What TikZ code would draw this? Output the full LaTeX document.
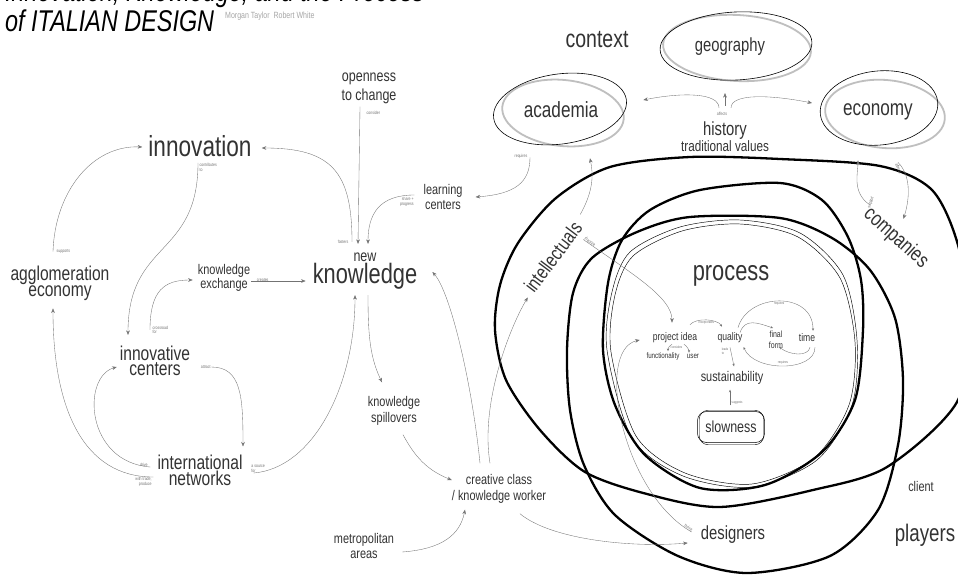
\documentclass[tikz,border=0pt]{standalone}
\usepackage{fontspec}
\setmainfont{Liberation Sans}[FakeStretch=0.78]
\usetikzlibrary{arrows.meta}
\newcommand\fsz[2]{\fontsize{#1}{#2}\selectfont}
\tikzset{
  idea/.style={inner sep=1pt, align=center, text=black!80},
  link/.style={draw=black!55, line width=0.35pt, -{Stealth[length=4.5pt,width=3.6pt]}},
  smalllink/.style={link, -{Stealth[length=2.6pt,width=2.2pt]}},
  lbl/.style={font=\fsz{4.5}{4.8}, text=black!55, inner sep=0.5pt, align=left},
  loop/.style={line width=2.3pt, line join=round},
  ring/.style={line width=0.45pt},
  sketch/.style={line width=0.6pt},
  smudge/.style={line width=1.8pt, draw=black!25},
}
\begin{document}
\begin{tikzpicture}[x=1pt,y=1pt]
\fill[white] (0,0) rectangle (958,-575);
\useasboundingbox (0,0) rectangle (958,-575);

% title
\node[inner sep=0pt, anchor=south west, align=left, font=\fsz{30}{30}\itshape] (title) at (5,-32) {Innovation, Knowledge, and the Process\\of ITALIAN DESIGN};
\node[inner sep=0pt, anchor=base west, font=\fsz{9}{9}, text=black!35] (authors) at (225,-19) {Morgan Taylor\ \ Robert White};

% players
\draw[loop] plot[smooth cycle] coordinates {(540,-430) (506,-380) (495,-330) (500,-285) (518,-243) (556,-198) (610,-167) (690,-157) (780,-159) (880,-166) (932,-190) (958,-245) (968,-320) (957,-402) (887,-467) (813,-490) (720,-507) (647,-494) (585,-472)};
\draw[loop] plot[smooth cycle] coordinates {(603,-350) (608,-283) (622,-240) (650,-210) (700,-190) (780,-183) (822,-200) (848,-237) (861,-280) (863,-330) (855,-400) (822,-452) (765,-485) (700,-488) (645,-455) (615,-405)};
\draw[loop] plot[smooth cycle] coordinates {(567,-350) (573,-293) (592,-258) (637,-232) (690,-217) (780,-218) (832,-238) (870,-270) (895,-318) (903,-380) (898,-445) (878,-510) (830,-556) (747,-573) (678,-556) (615,-515) (584,-465) (570,-410)};
\draw[ring] plot[smooth cycle] coordinates {(607,-350) (612,-292) (630,-252) (680,-227) (740,-220) (800,-233) (843,-275) (857,-340) (852,-405) (817,-460) (752,-487) (683,-476) (632,-438)};
\draw[ring] plot[smooth cycle] coordinates {(611,-352) (615,-295) (633,-256) (682,-231) (740,-224) (798,-237) (840,-278) (855,-342) (849,-405) (814,-458) (752,-484) (685,-473) (636,-436)};

% context
\draw[smudge, rotate around={-3:(737,-48)}] (737,-48) ellipse [x radius=74, y radius=33];
\draw[sketch, rotate around={3:(736,-46)}] (736,-46) ellipse [x radius=76, y radius=34];
\draw[smudge, rotate around={-6:(563,-113)}] (563,-113) ellipse [x radius=61, y radius=33];
\draw[sketch, rotate around={8:(560,-109)}] (560,-109) ellipse [x radius=67, y radius=35];
\draw[smudge, rotate around={-5:(885,-114)}] (885,-114) ellipse [x radius=60, y radius=34];
\draw[sketch, rotate around={6:(879,-108)}] (879,-108) ellipse [x radius=59, y radius=37];

\node[idea, font=\fsz{25}{25}] (context) at (597,-40) {context};
\node[idea, font=\fsz{19}{19}] (geo) at (730,-47) {geography};
\node[idea, font=\fsz{22}{22}] (acad) at (561,-110) {academia};
\node[idea, font=\fsz{22}{22}] (econ) at (878,-112) {economy};
\node[idea, font=\fsz{19}{12}] (hist) at (725,-137) {history\\\fsz{15}{12}traditional values};
\node[idea, font=\fsz{20}{20}, rotate=53] (intel) at (553,-257) {intellectuals};
\node[idea, font=\fsz{21}{21}, rotate=-42] (comp) at (896,-238) {companies};

% knowledge side
\node[idea, font=\fsz{29}{29}] (innov) at (200,-146) {innovation};
\node[idea, font=\fsz{20}{14}] (agglo) at (60,-283) {agglomeration\\economy};
\node[idea, font=\fsz{14}{14}] (kex) at (224,-278) {knowledge\\exchange};
\node[idea, font=\fsz{20}{15}] (innovcent) at (155,-361) {innovative\\centers};
\node[idea, font=\fsz{20}{16}] (intnet) at (200,-470) {international\\networks};
\node[idea] (newknow) at (365,-271) {\fsz{16}{25}new\\\fsz{28}{25}knowledge};
\node[idea, font=\fsz{16}{19}] (open) at (369,-88) {openness\\to change};
\node[idea, font=\fsz{14}{15}] (learn) at (443,-197) {learning\\centers};
\node[idea, font=\fsz{14}{16}] (spill) at (394,-411) {knowledge\\spillovers};
\node[idea, font=\fsz{14}{16}] (creative) at (499,-489) {creative class\\/ knowledge worker};
\node[idea, font=\fsz{14}{15}] (metro) at (364,-546) {metropolitan\\areas};

% process
\node[idea, font=\fsz{28}{28}] (proc) at (731,-276) {process};
\node[idea, font=\fsz{11}{11}] (projidea) at (675,-338) {project idea};
\node[idea, font=\fsz{8}{8}] (func) at (663,-356) {functionality};
\node[idea, font=\fsz{8}{8}] (user) at (693,-356) {user};
\node[idea, font=\fsz{11}{11}] (quality) at (730,-338) {quality};
\node[idea, font=\fsz{9}{11}] (finalform) at (776,-340) {final\\form};
\node[idea, font=\fsz{11}{11}] (time) at (807,-338) {time};
\node[idea, font=\fsz{14}{14}] (sustain) at (732,-378) {sustainability};
\node[idea, font=\fsz{16}{16}, draw, line width=0.5pt, rounded corners=9pt, minimum width=67pt, minimum height=31pt] (slow) at (731,-427) {slowness};
\draw[line width=0.4pt, rounded corners=9pt] ([xshift=2pt,yshift=-2pt]slow.south west) rectangle ([xshift=-1pt,yshift=1pt]slow.north east);

\node[idea, font=\fsz{19}{19}] (design) at (733,-535) {designers};
\node[idea, font=\fsz{14}{14}] (client) at (921,-486) {client};
\node[idea, font=\fsz{24}{24}] (players) at (925,-535) {players};

% connectors
\draw[link] ([xshift=-7pt,yshift=13pt]agglo.north) node[lbl, anchor=west, xshift=3pt] {supports}
  .. controls +(2,60) and +(-50,2) .. ([xshift=-5pt,yshift=-1pt]innov.west);
\draw[link] ([xshift=-2pt,yshift=-5pt]innov.south) node[lbl, anchor=north west, xshift=1pt] {contributes\\to}
  .. controls +(0,-95) and +(0,95) .. ([xshift=-27pt,yshift=10pt]innovcent.north);
\draw[link] ([xshift=-5pt,yshift=15pt]innovcent.north) node[lbl, anchor=west, xshift=2pt] {crossroad\\for}
  .. controls +(0,40) and +(-28,0) .. ([xshift=-4pt,yshift=-2pt]kex.west);
\draw[link] ([yshift=-3pt]kex.east) node[lbl, anchor=south west, xshift=5pt, yshift=-1.5pt] {creates}
  -- ([xshift=-6pt,yshift=-10pt]newknow.west);
\draw[link] ([xshift=-13pt,yshift=10pt]newknow.north) node[lbl, anchor=east, xshift=-3pt] {fosters}
  .. controls +(0,70) and +(70,0) .. ([xshift=9pt,yshift=-2pt]innov.east);
\draw[link] ([xshift=-9pt,yshift=-2pt]open.south) node[lbl, anchor=north west, xshift=6pt, yshift=-4pt] {consider}
  -- ([xshift=-7pt,yshift=8pt]newknow.north);
\draw[link] ([xshift=-8pt,yshift=2pt]learn.west) node[lbl, anchor=north east, align=right, yshift=-2pt] {share +\\progress}
  .. controls +(-35,0) and +(0,30) .. ([xshift=3pt,yshift=8pt]newknow.north);
\draw[link] ([xshift=-31pt,yshift=-38pt]acad.south) node[lbl, anchor=east, xshift=-2pt, yshift=1pt] {requires}
  .. controls +(0,-25) and +(40,3) .. ([xshift=12pt]learn.east);
\draw[link] ([xshift=-19pt,yshift=10pt]creative.north)
  .. controls +(-8,80) and +(18,-20) .. ([xshift=14pt,yshift=-1pt]newknow.east);
\draw[link] ([xshift=-9pt,yshift=10pt]creative.north)
  .. controls +(-10,60) and +(-18,-30) .. ([yshift=-7pt]intel.west);
\draw[link] ([xshift=9pt,yshift=-8pt]spill.south)
  .. controls +(12,-22) and +(-25,10) .. ([xshift=1pt,yshift=9pt]creative.west);
\draw[link] ([xshift=3pt,yshift=-5pt]newknow.south)
  .. controls +(0,-40) and +(-12,25) .. ([xshift=-12pt,yshift=13pt]spill.north);
\draw[link] ([xshift=10pt,yshift=-3pt]intnet.east) node[lbl, anchor=south west, xshift=-3pt] {a source\\for}
  .. controls +(60,5) and +(0,-90) .. ([xshift=-10pt,yshift=-5pt]newknow.south);
\draw[link] ([xshift=-3pt,yshift=-7pt]intnet.west) node[lbl, anchor=north east, align=right, xshift=-1pt] {with trade,\\produce}
  .. controls +(-70,0) and +(0,-100) .. ([xshift=-7pt,yshift=-7pt]agglo.south);
\draw[link] ([xshift=-6pt,yshift=3pt]intnet.west) node[lbl, anchor=south east, xshift=-2pt] {drive}
  .. controls +(-65,5) and +(-35,-10) .. ([xshift=-2pt,yshift=-6pt]innovcent.west);
\draw[link] ([xshift=20pt,yshift=-6pt]innovcent.east) node[lbl, anchor=east] {attract}
  .. controls +(30,0) and +(0,50) .. ([xshift=43pt,yshift=7pt]intnet.north);
\draw[link] ([xshift=7pt,yshift=-6pt]metro.east)
  .. controls +(40,3) and +(-5,-25) .. ([xshift=-34pt,yshift=-5pt]creative.south);

\draw[link] ([xshift=2pt,yshift=9pt]intel.east)
  .. controls +(14,25) and +(3,-15) .. ([xshift=29pt,yshift=-39pt]acad.south);
\draw[link] ([xshift=5pt,yshift=-16pt]intel.east) node[lbl, rotate=-38, anchor=south west] {theorize}
  .. controls +(50,-35) and +(0,25) .. ([xshift=-3pt,yshift=9pt]projidea.north);
\draw[link] ([xshift=-8pt,yshift=3pt]design.west) node[lbl, rotate=-30, anchor=south east] {thrive}
  .. controls +(-70,40) and +(-45,-10) .. ([xshift=-12pt,yshift=-2pt]projidea.west);
\draw[link] ([xshift=21pt,yshift=-9pt]creative.south)
  .. controls +(30,-25) and +(-60,-5) .. ([xshift=-12pt,yshift=-8pt]design.west);

\draw[link] ([xshift=-6pt,yshift=13pt]hist.north)
  .. controls +(0,15) and +(40,8) .. ([xshift=44pt,yshift=10pt]acad.east);
\draw[link] ([yshift=15pt]hist.north) node[lbl, anchor=north, yshift=-6pt, xshift=-3pt] {affects}
  -- ([xshift=-5pt,yshift=-36pt]geo.south);
\draw[link] ([xshift=6pt,yshift=13pt]hist.north)
  .. controls +(0,15) and +(-40,8) .. ([xshift=-30pt,yshift=9pt]econ.west);
\draw[link] ([xshift=20pt,yshift=-41pt]econ.south) node[lbl, rotate=-68, anchor=south west, yshift=-4pt] {affects}
  .. controls +(15,-15) and +(5,15) .. ([xshift=0pt,yshift=11pt]comp.north);
\draw[link] ([xshift=4pt,yshift=6pt]comp.west) node[lbl, rotate=72, anchor=north west, xshift=-4pt, yshift=2pt] {support}
  .. controls +(-18,12) and +(0,-12) .. ([xshift=-20pt,yshift=-39pt]econ.south);

\draw[smalllink] ([xshift=15pt,yshift=7pt]projidea.north)
  .. controls +(6,7) and +(-5,8) .. node[lbl, font=\fsz{3.6}{3.6}, below=0pt] {incorporates} ([xshift=-8pt,yshift=5pt]quality.north);
\draw[smalllink] ([xshift=-3pt]projidea.south)
  .. controls +(-3,-2) and +(0,3) .. ([xshift=5pt]func.north);
\draw[smalllink] ([xshift=9pt]projidea.south) node[lbl, font=\fsz{3.5}{3.5}, anchor=north east, xshift=-1pt, yshift=-1pt] {considers}
  .. controls +(3,-2) and +(0,3) .. ([xshift=-4pt]user.north);
\draw[smalllink] ([yshift=-3pt]quality.south) node[lbl, font=\fsz{3.5}{3.5}, anchor=north east, xshift=-1pt] {leads\\to}
  -- ([xshift=2pt,yshift=4pt]sustain.north);
\draw[smalllink] ([xshift=-1pt,yshift=6pt]slow.north) node[lbl, font=\fsz{3.5}{3.5}, anchor=south west, xshift=1pt] {suggests}
  -- ([xshift=-2pt,yshift=-4pt]sustain.south);
\draw[smalllink] ([xshift=8pt,yshift=4pt]quality.north)
  .. controls +(10,35) and +(0,40) .. node[lbl, font=\fsz{3.6}{3.6}, below=0.5pt] {requires} ([xshift=6pt,yshift=2pt]time.north);
\draw[smalllink] ([xshift=10pt,yshift=-1pt]quality.north)
  .. controls +(5,15) and +(-15,5) .. ([xshift=-3pt,yshift=2pt]finalform.north);
\draw[smalllink] ([xshift=3pt,yshift=-4pt]time.south)
  .. controls +(-2,-10) and +(10,-8) .. ([xshift=-5pt,yshift=-7pt]finalform.east);
\draw[smalllink] ([xshift=8pt,yshift=-4pt]time.south)
  .. controls +(0,-25) and +(10,-25) .. node[lbl, font=\fsz{3.6}{3.6}, above=0.5pt] {requires} ([yshift=-9pt]quality.east);
\end{tikzpicture}
\end{document}
